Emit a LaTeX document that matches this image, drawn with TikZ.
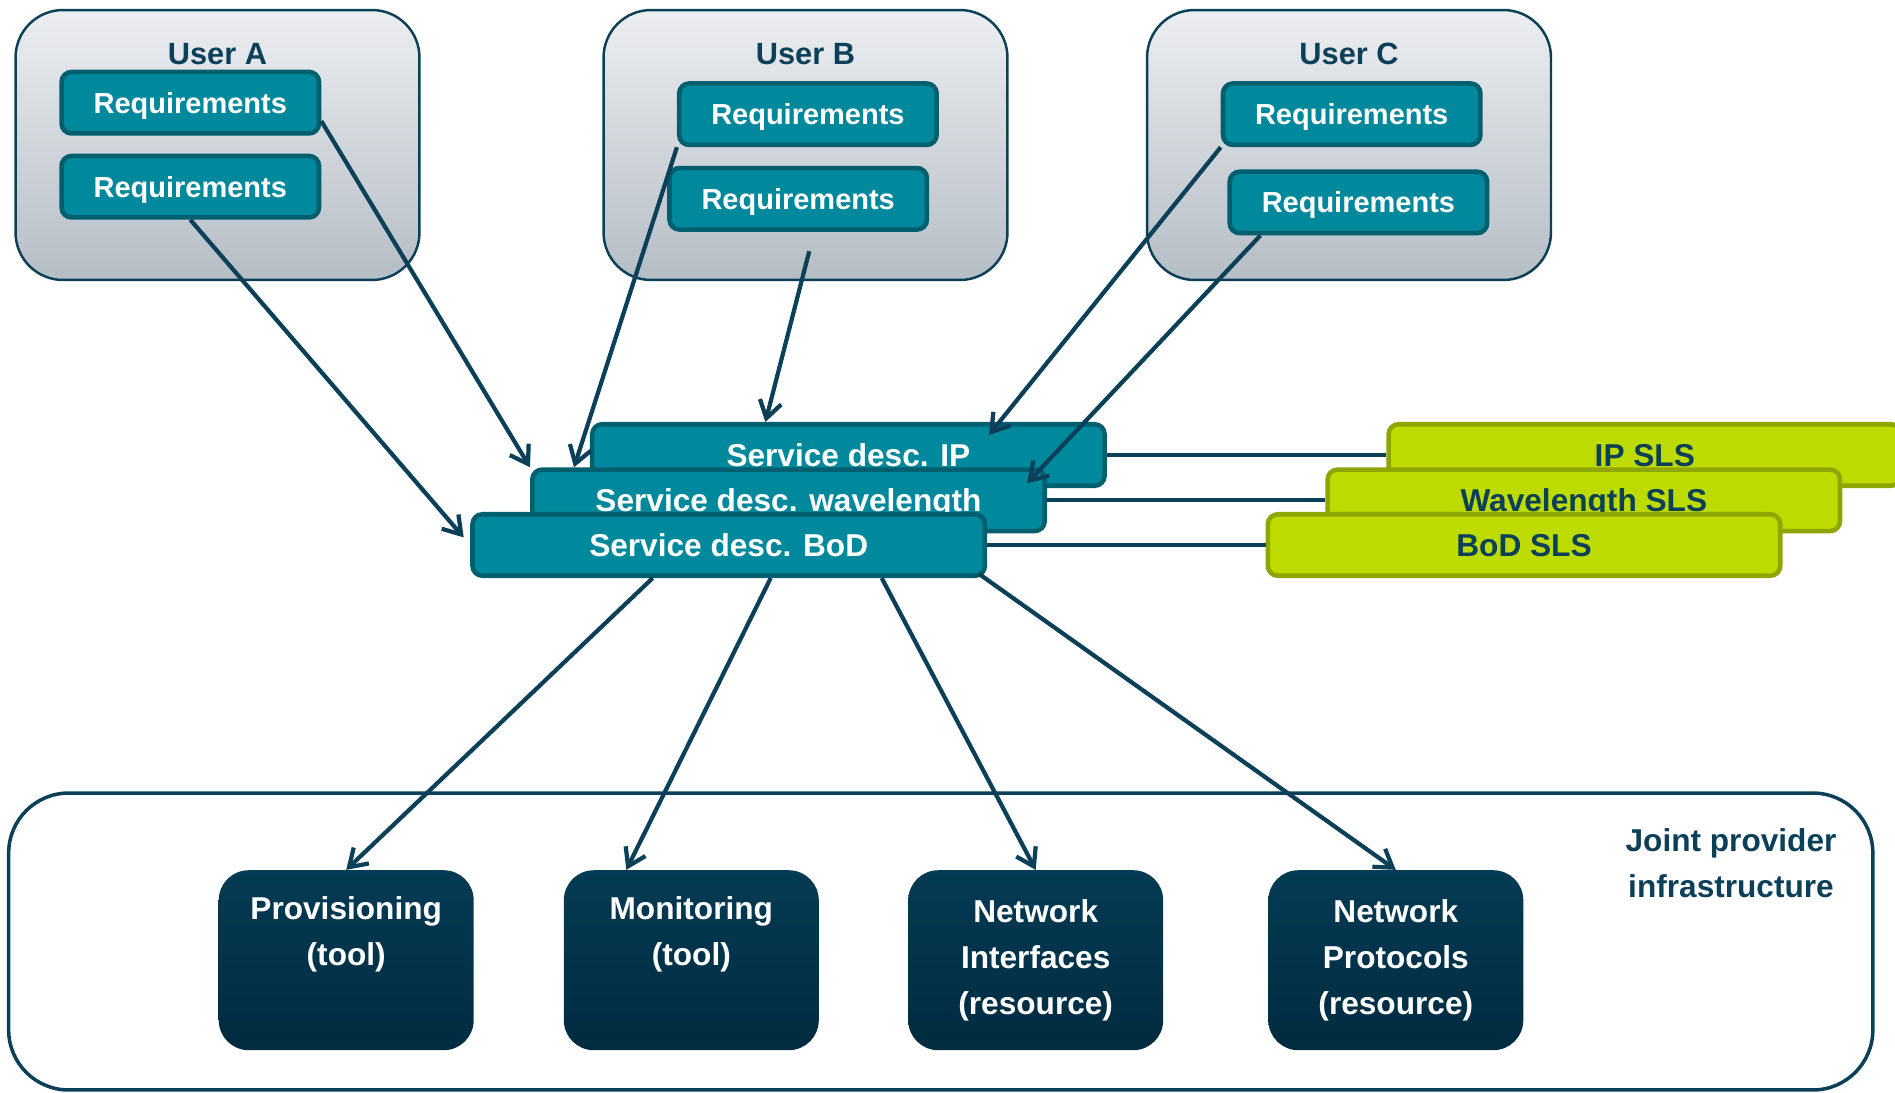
\documentclass[tikz,border=0pt]{standalone}
\usepackage{fontspec}
\setmainfont{Liberation Sans}
\usetikzlibrary{arrows.meta,calc}

\definecolor{navy}{HTML}{0B4058}
\definecolor{sdteal}{HTML}{00889D}
\definecolor{tealedge}{HTML}{005F6E}
\definecolor{limefill}{HTML}{BEDB00}
\definecolor{limeedge}{HTML}{8FA500}
\definecolor{greytop}{HTML}{ECEEF1}
\definecolor{greybot}{HTML}{B5BDC5}
\definecolor{darktop}{HTML}{053B54}
\definecolor{darkbot}{HTML}{002B40}

\tikzset{
  userbox/.style={draw=navy, line width=1.4pt, rounded corners=0.95cm,
    top color=greytop, bottom color=greybot,
    minimum width=8.08cm, minimum height=5.4cm},
  userlbl/.style={text=navy, font=\fontsize{17.5}{20}\selectfont\bfseries},
  reqbox/.style={draw=tealedge, line width=2.6pt, fill=sdteal, rounded corners=0.2cm,
    minimum width=5.15cm, minimum height=1.23cm, text=white, text depth=0pt,
    font=\fontsize{16.5}{19}\selectfont\bfseries},
  descbox/.style={reqbox, minimum width=10.25cm, font=\fontsize{18}{21}\selectfont\bfseries},
  slsbox/.style={descbox, draw=limeedge, fill=limefill, text=navy},
  toolbox/.style={rounded corners=0.6cm, top color=darktop, bottom color=darkbot,
    minimum width=5.1cm, minimum height=3.6cm, text=white, align=center,
    font=\fontsize{18}{26}\selectfont\bfseries},
  infra/.style={draw=navy, line width=2pt, rounded corners=1.2cm,
    minimum width=37.29cm, minimum height=5.94cm},
  link/.style={navy, line width=2.4pt},
  flow/.style={link, -{Straight Barb[length=3.4mm,width=4.4mm]}},
}

\begin{document}
\begin{tikzpicture}[x=0.02cm, y=-0.02cm]
  \clip (0,0) rectangle (1895,1092);

  % users
  \foreach \u/\x in {A/217.5, B/805.5, C/1349}
  {
    \node[userbox] (user\u) at (\x,145) {};
    \node[userlbl] (lbl\u) at ($(user\u.north)+(0,45)$) {User \u};
  }
  \node[reqbox] (reqA1) at (190.3,102.7) {Requirements};
  \node[reqbox] (reqA2) at (190.3,186.7) {Requirements};
  \node[reqbox] (reqB1) at (807.9,114.2) {Requirements};
  \node[reqbox] (reqB2) at (798.2,198.8) {Requirements};
  \node[reqbox] (reqC1) at (1351.7,114.2) {Requirements};
  \node[reqbox] (reqC2) at (1358.4,202.4) {Requirements};

  % service descriptions and SLS
  \node[descbox] (sdIP) at (848.4,455) {Service desc. IP};
  \node[descbox] (sdWave) at (788.5,500.3) {Service desc. wavelength};
  \node[descbox] (sdBoD) at (728.7,545) {Service desc. BoD};
  \node[slsbox] (slsIP) at (1644.8,455) {IP SLS};
  \node[slsbox] (slsWave) at (1583.8,500.3) {Wavelength SLS};
  \node[slsbox] (slsBoD) at (1524,545) {BoD SLS};
  \draw[link] (sdIP.east) -- (slsIP.west);
  \draw[link] (sdWave.east) -- (slsWave.west);
  \draw[link] (sdBoD.east) -- (slsBoD.west);

  % infrastructure
  \node[infra] (infra) at (940.75,941.5) {};
  \node[userlbl, font=\fontsize{18}{26}\selectfont\bfseries, align=center] (joint) at (1731,863)
    {Joint provider\\infrastructure};
  \node[toolbox] (prov) at (346.2,960.2) {Provisioning\\(tool)\\[7pt]\mbox{}};
  \node[toolbox] (mon) at (691.3,960.2) {Monitoring\\(tool)\\[7pt]\mbox{}};
  \node[toolbox] (netif) at (1035.7,960.2) {Network\\Interfaces\\(resource)};
  \node[toolbox] (netpr) at (1395.8,960.2) {Network\\Protocols\\(resource)};

  % requirements to descriptions
  \draw[flow] (reqA1.-8) -- (sdWave.north west);
  \draw[flow, shorten >=2mm] (reqA2.south) -- (sdBoD.west);
  \draw[flow] (reqB1.south west) -- ($(sdWave.north west)+(44,0)$);
  \draw[flow, shorten <=4mm] ($(reqB2.south)+(16,0)$) -- ($(sdIP.north)+(-83,0)$);
  \draw[flow] (reqC1.south west) -- ($(sdIP.north east)+(-118,13)$);
  \draw[flow] ($(reqC2.south west)+(33,0)$) -- ($(sdWave.north east)+(-20,16)$);

  % descriptions to infrastructure
  \draw[flow] ($(sdBoD.south)+(-76,0)$) -- (prov.north);
  \draw[flow] ($(sdBoD.south)+(42,0)$) -- ($(mon.north)+(-65,0)$);
  \draw[flow] ($(sdBoD.south)+(153,0)$) -- (netif.north);
  \draw[flow] ($(sdBoD.south east)+(-8,-4)$) -- (netpr.north);
\end{tikzpicture}
\end{document}
